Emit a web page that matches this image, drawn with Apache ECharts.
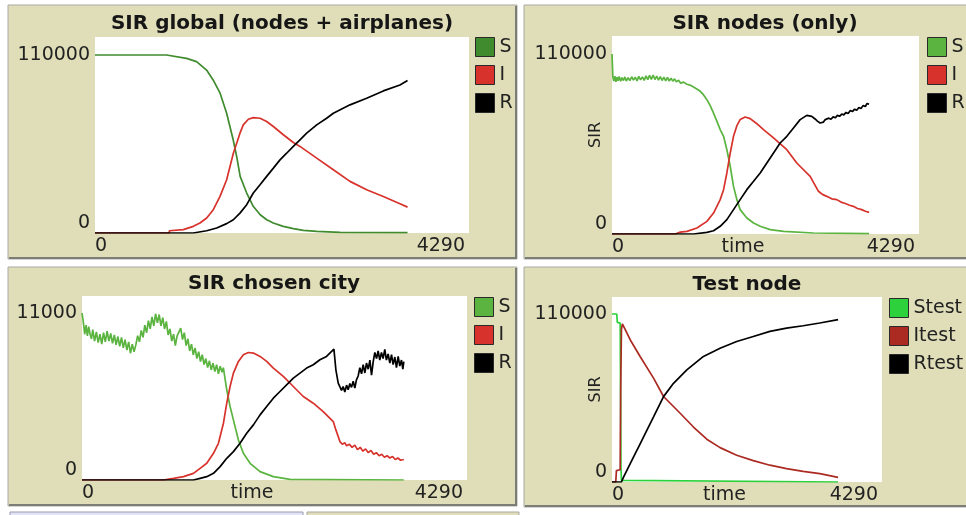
<!DOCTYPE html>
<html lang="en">
<head>
<meta charset="utf-8">
<title>SIR plots</title>
<script src="https://cdn.jsdelivr.net/npm/echarts@6/dist/echarts.min.js"></script>
<style>
    html, body { margin: 0; padding: 0; background: #fff; }
    #main { width: 966px; height: 515px; }
</style>
</head>
<body>
<div id="main"></div>
<script>
    // ---- values, as [time, count] ----
    var T_MAX = 4290;

    var globalS = [[0,110000],[820,110000],[1050,107900],[1165,105900],[1280,100700],[1355,94600],[1435,86400],[1510,74000],[1585,57600],[1625,47300],[1665,35000],[1740,24700],[1815,16500],[1895,11300],[1970,8200],[2045,6200],[2160,4100],[2275,2700],[2390,1600],[2545,1000],[2810,400],[3585,200]];
    var globalI = [[0,0],[850,0],[855,1400],[1013,2100],[1128,4100],[1204,6200],[1281,9300],[1357,14400],[1434,22600],[1510,32900],[1587,49300],[1625,55500],[1663,61700],[1701,66800],[1759,70300],[1816,71300],[1893,70900],[1969,68900],[2046,65800],[2160,60700],[2275,55900],[2351,53500],[2543,46300],[2734,39100],[2925,31900],[3116,26700],[3307,22600],[3498,18100],[3585,16000]];
    var globalR = [[0,0],[1128,0],[1135,400],[1281,1400],[1396,3100],[1510,5800],[1587,8200],[1663,12300],[1740,17500],[1816,24700],[1893,29800],[1969,35000],[2046,40100],[2122,45200],[2198,49300],[2275,53500],[2351,57600],[2428,61700],[2543,66800],[2657,70900],[2734,74000],[2925,79200],[3116,83300],[3307,87800],[3498,91500],[3585,94200]];

    var nodesS = [[0,110000],[12,96000],[25,93500],[40,96500],[55,93000],[70,95800],[85,93600],[100,96200],[120,93400],[140,95600],[160,93800],[180,96000],[200,93500],[225,95500],[250,93700],[275,96100],[300,94000],[325,95800],[350,93600],[375,96300],[400,94200],[425,96000],[450,93900],[475,96600],[500,94300],[525,96900],[550,94500],[575,97200],[600,94400],[625,96500],[650,94000],[675,96200],[700,93800],[725,95900],[750,93600],[775,95700],[800,93500],[825,95200],[850,93400],[875,94800],[900,93000],[930,94000],[960,92200],[1000,92800],[1047,91500],[1090,91000],[1140,89800],[1190,88500],[1233,87200],[1280,85000],[1326,82100],[1372,78500],[1419,73900],[1465,69000],[1512,63800],[1559,59700],[1605,51500],[1652,41400],[1698,29100],[1745,21000],[1791,14900],[1884,9800],[1978,6700],[2071,4700],[2210,2700],[2396,1600],[2815,600],[3592,200]];
    var nodesI = [[0,0],[884,0],[890,600],[954,1200],[1047,1600],[1187,3700],[1326,7700],[1419,12800],[1512,21000],[1559,27100],[1605,37300],[1652,49500],[1698,59700],[1745,66200],[1791,69900],[1861,71500],[1931,70500],[2024,67400],[2117,63800],[2257,58700],[2443,51500],[2582,43400],[2769,35200],[2885,26100],[2940,24200],[3001,23000],[3070,21500],[3141,21000],[3200,19500],[3260,18600],[3320,17600],[3373,16900],[3430,15600],[3490,14900],[3540,13900],[3592,13200]];
    var nodesR = [[0,0],[1140,0],[1145,200],[1326,1000],[1419,2000],[1512,4700],[1605,8800],[1698,14900],[1791,21000],[1884,27100],[1978,32200],[2071,37300],[2164,43400],[2257,49500],[2350,55600],[2443,59700],[2536,64800],[2629,69900],[2722,72500],[2792,71900],[2838,70300],[2870,69000],[2908,67800],[2930,68900],[2955,68400],[2980,69900],[3000,69300],[3030,70800],[3060,70100],[3090,71600],[3120,71000],[3150,72500],[3180,71900],[3210,73300],[3240,72800],[3270,74300],[3300,73700],[3330,75500],[3360,74800],[3390,76300],[3420,75600],[3450,77300],[3480,76700],[3510,78600],[3540,77900],[3565,79800],[3592,79300]];

    var cityS = [[0,11000],[15,10400],[30,9600],[45,10200],[60,9500],[75,10100],[90,9600],[105,9300],[120,9900],[140,9150],[160,9750],[180,9050],[200,9600],[220,8950],[240,9700],[260,9100],[280,9800],[300,9150],[320,9650],[340,9000],[360,9550],[380,8900],[400,9450],[420,8800],[440,9400],[460,8700],[480,9250],[500,8550],[520,9100],[540,8350],[560,8950],[580,8450],[600,8900],[620,9500],[640,9100],[660,9850],[680,9400],[700,10200],[720,9700],[740,10500],[760,9950],[780,10750],[800,10150],[820,10950],[840,10350],[860,10900],[880,10150],[900,10700],[920,9950],[940,10450],[960,9550],[980,9950],[1000,9150],[1020,9600],[1040,8850],[1060,9500],[1080,9600],[1100,10000],[1120,9250],[1140,9700],[1160,8850],[1180,9300],[1200,8500],[1220,8950],[1240,8250],[1260,8700],[1280,8000],[1300,8450],[1320,7800],[1340,8250],[1360,7600],[1380,8000],[1400,7400],[1420,7850],[1440,7250],[1460,7700],[1480,7150],[1500,7600],[1520,7000],[1540,7500],[1560,7100],[1575,7400],[1613,5940],[1650,4840],[1687,3960],[1743,2640],[1798,1760],[1873,1100],[1984,550],[2132,220],[2318,40],[3586,0]];
    var cityI = [[0,0],[908,0],[912,40],[1020,110],[1131,220],[1242,440],[1316,770],[1390,1100],[1465,1760],[1520,2420],[1576,3740],[1613,5060],[1650,6160],[1687,7040],[1743,7810],[1798,8250],[1854,8400],[1910,8360],[1984,8140],[2058,7810],[2132,7370],[2243,6820],[2355,6160],[2466,5500],[2577,5060],[2688,4510],[2800,3850],[2829,3300],[2874,2530],[2900,2350],[2930,2450],[2948,2250],[2980,2350],[3010,2150],[3040,2300],[3070,2000],[3100,2150],[3130,1900],[3160,2050],[3190,1800],[3220,1950],[3250,1700],[3280,1800],[3310,1600],[3340,1700],[3370,1500],[3400,1600],[3430,1450],[3460,1550],[3490,1350],[3520,1450],[3550,1300],[3586,1350]];
    var cityR = [[0,0],[1242,0],[1250,40],[1316,110],[1390,220],[1465,440],[1539,880],[1613,1430],[1687,1870],[1761,2420],[1835,3080],[1910,3630],[1984,4290],[2058,4840],[2132,5390],[2206,5830],[2280,6270],[2355,6710],[2429,7040],[2503,7370],[2577,7590],[2651,7920],[2725,8140],[2807,8620],[2829,7260],[2855,6380],[2892,5900],[2910,6150],[2929,5800],[2948,6250],[2966,5950],[2985,6350],[3003,6100],[3022,6500],[3040,6050],[3058,6600],[3077,6850],[3096,7400],[3115,7000],[3133,7600],[3152,7050],[3170,7700],[3189,7300],[3208,7900],[3226,6900],[3245,7800],[3263,8400],[3282,8000],[3300,8500],[3318,7900],[3337,8400],[3355,8000],[3374,8600],[3392,7900],[3411,8300],[3430,7700],[3449,8250],[3467,7600],[3486,8100],[3504,7400],[3523,8150],[3541,7500],[3560,7900],[3575,7300],[3586,7800]];

    var testS = [[0,110000],[75,110000],[85,104500],[130,104000],[136,60000],[142,10000],[150,1000],[165,0],[3592,0]];
    var testI = [[0,0],[60,0],[70,7500],[130,8000],[138,60000],[150,100000],[165,103500],[291,93000],[449,82000],[660,68000],[819,56000],[1083,45000],[1294,36000],[1506,28000],[1717,22500],[1981,17500],[2245,14000],[2509,11000],[2773,8800],[3037,7000],[3302,5500],[3592,3000]];
    var testR = [[0,0],[150,0],[185,3300],[343,16400],[449,25200],[555,34000],[660,42700],[819,55900],[977,64600],[1189,73400],[1453,82200],[1717,87600],[1981,92000],[2245,95300],[2509,98600],[2773,100800],[3038,102300],[3302,104100],[3592,106300]];

    var titles = ['SIR global (nodes + airplanes)', 'SIR nodes (only)', 'SIR chosen city', 'Test node'];
    var yTopLabels = [110000, 110000, 11000, 110000];
    var seriesNames = [['S', 'I', 'R'], ['S', 'I', 'R'], ['S', 'I', 'R'], ['Stest', 'Itest', 'Rtest']];
    var seriesData = [[globalS, globalI, globalR], [nodesS, nodesI, nodesR], [cityS, cityI, cityR], [testS, testI, testR]];
    var seriesColors = [
        ['#3f8b2e', '#d7322b', '#000000'],
        ['#5ab43f', '#d7322b', '#000000'],
        ['#5ab43f', '#d7322b', '#000000'],
        ['#2dd13b', '#ab2a21', '#000000']
    ];

    // ---- layout (pixels) ----
    var FONT = 'DejaVu Sans';
    var BEIGE = '#dfdeb8';
    var panels = [
        {frame: [8, 5, 509, 254],   grid: {left: 95,  top: 37,  width: 374, height: 196}, pad: 18, titleX: 282, titleY: 14,  legend: [475, 37],  axisNames: false},
        {frame: [524, 5, 450, 254], grid: {left: 612, top: 36,  width: 307, height: 198}, pad: 18, titleX: 765, titleY: 14,  legend: [927, 37],  axisNames: true},
        {frame: [8, 267, 509, 239], grid: {left: 82,  top: 296, width: 385, height: 184}, pad: 17, titleX: 274, titleY: 274, legend: [474, 297], axisNames: 'x'},
        {frame: [524, 267, 450, 240], grid: {left: 612, top: 297, width: 270, height: 185}, pad: 17, titleX: 747, titleY: 275, legend: [889, 298], axisNames: true}
    ];

    var option = {
        animation: false,
        backgroundColor: '#ffffff',
        textStyle: {fontFamily: FONT},
        title: [], grid: [], xAxis: [], yAxis: [], legend: [], series: [],
        graphic: {elements: []}
    };

    panels.forEach(function (p, i) {
        var f = p.frame;
        var top = yTopLabels[i];
        var yMax = top * p.grid.height / (p.grid.height - p.pad);

        // widget frame
        option.graphic.elements.push({
            type: 'rect', z: -10, silent: true,
            shape: {x: f[0], y: f[1], width: f[2], height: f[3]},
            style: {fill: BEIGE, stroke: '#a9a9a4', lineWidth: 1}
        });
        option.graphic.elements.push({
            type: 'polyline', z: -9, silent: true,
            shape: {points: [[f[0] + 1, f[1] + f[3] - 1], [f[0] + f[2] - 1, f[1] + f[3] - 1], [f[0] + f[2] - 1, f[1] + 1]]},
            style: {stroke: '#7d7d78', lineWidth: 2, fill: null}
        });

        option.title.push({
            text: titles[i], left: p.titleX, top: p.titleY, textAlign: 'center', padding: 0,
            textStyle: {fontFamily: FONT, fontSize: 20, fontWeight: 'bold', color: '#161616'}
        });

        option.grid.push({
            left: p.grid.left, top: p.grid.top, width: p.grid.width, height: p.grid.height,
            show: true, backgroundColor: '#ffffff', borderWidth: 0
        });

        option.xAxis.push({
            type: 'value', gridIndex: i, min: 0, max: T_MAX, interval: T_MAX,
            name: p.axisNames ? 'time' : '', nameLocation: 'middle', nameGap: 4, nameMoveOverlap: false,
            nameTextStyle: {fontFamily: FONT, fontSize: 19, color: '#222', verticalAlign: 'top', padding: [0, 45, 0, 0]},
            axisLine: {show: false}, axisTick: {show: false}, splitLine: {show: false},
            axisLabel: {
                fontFamily: FONT, fontSize: 19, color: '#222', margin: 4,
                alignMinLabel: 'left', alignMaxLabel: 'right',
                formatter: function (v) { return v === T_MAX ? '{m|' + v + '}' : String(v); },
                rich: {m: {fontFamily: FONT, fontSize: 19, color: '#222', padding: [0, 4, 0, 0]}}
            }
        });

        option.yAxis.push({
            type: 'value', gridIndex: i, min: 0, max: yMax, interval: top,
            name: p.axisNames === true ? 'SIR' : '', nameLocation: 'middle', nameGap: 8, nameMoveOverlap: false,
            nameTextStyle: {fontFamily: FONT, fontSize: 16, color: '#222'},
            axisLine: {show: false}, axisTick: {show: false}, splitLine: {show: false},
            axisLabel: {
                fontFamily: FONT, fontSize: 19, color: '#222', margin: 5,
                formatter: function (v) {
                    if (v === 0) return '{z|0}';
                    if (v === top) return String(v);
                    return '';
                },
                rich: {z: {fontFamily: FONT, fontSize: 19, color: '#222', padding: [0, 0, 20, 0]}}
            }
        });

        option.legend.push({
            orient: 'vertical', left: p.legend[0], top: p.legend[1], padding: 0,
            itemWidth: 19, itemHeight: 19, itemGap: 8, icon: 'rect', selectedMode: false,
            textStyle: {fontFamily: FONT, fontSize: 19, color: '#222', lineHeight: 19},
            data: seriesNames[i].map(function (n, k) {
                return {name: n, itemStyle: {color: seriesColors[i][k], borderColor: '#2a2a2a', borderWidth: 1}};
            })
        });

        seriesNames[i].forEach(function (n, k) {
            option.series.push({
                type: 'line', name: n, xAxisIndex: i, yAxisIndex: i,
                data: seriesData[i][k], showSymbol: false, symbol: 'none', silent: true,
                lineStyle: {color: seriesColors[i][k], width: 1.7},
                itemStyle: {color: seriesColors[i][k]}
            });
        });
    });

    // partly visible widgets under the plots
    option.graphic.elements.push({
        type: 'rect', z: -10, silent: true,
        shape: {x: 10, y: 512, width: 293, height: 10},
        style: {fill: '#e2e3f6', stroke: '#9c9cb0', lineWidth: 1}
    });
    option.graphic.elements.push({
        type: 'rect', z: -10, silent: true,
        shape: {x: 307, y: 512, width: 212, height: 10},
        style: {fill: BEIGE, stroke: '#a9a9a4', lineWidth: 1}
    });

    var myChart = echarts.init(document.getElementById('main'));
    myChart.setOption(option);
</script>
</body>
</html>
